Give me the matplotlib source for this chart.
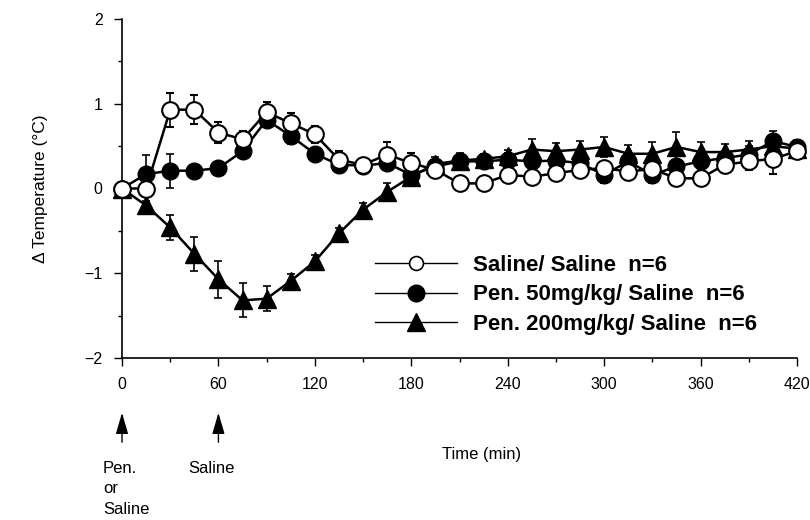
import matplotlib
matplotlib.use("Agg")
import matplotlib.pyplot as plt
import matplotlib.transforms as mtransforms
from matplotlib.lines import Line2D
from matplotlib.ticker import MultipleLocator

plt.rcParams['font.family'] = ['Liberation Sans', 'DejaVu Sans']

time_min = list(range(0, 421, 15))

saline = [0, 0, 0.93, 0.93, 0.66, 0.58, 0.90, 0.77, 0.64, 0.34, 0.28, 0.40, 0.30,
          0.22, 0.06, 0.06, 0.16, 0.14, 0.18, 0.22, 0.24, 0.20, 0.23, 0.12, 0.12,
          0.28, 0.32, 0.35, 0.44]
saline_err = [0, 0.03, 0.20, 0.17, 0.12, 0.10, 0.12, 0.12, 0.10, 0.10, 0.05, 0.15, 0.12,
              0.08, 0.03, 0.03, 0.05, 0.05, 0.05, 0.05, 0.05, 0.10, 0.05, 0.05, 0.05,
              0.10, 0.10, 0.18, 0.08]

pen50 = [0, 0.17, 0.21, 0.21, 0.24, 0.44, 0.81, 0.62, 0.41, 0.28, 0.27, 0.30, 0.16,
         0.26, 0.32, 0.32, 0.34, 0.32, 0.33, 0.30, 0.16, 0.32, 0.16, 0.26, 0.32,
         0.36, 0.40, 0.56, 0.49]
pen50_err = [0, 0.22, 0.20, 0.06, 0.03, 0.05, 0.05, 0.10, 0.05, 0.05, 0.05, 0.08, 0.05,
             0.08, 0.10, 0.08, 0.08, 0.08, 0.08, 0.08, 0.10, 0.08, 0.10, 0.08, 0.10,
             0.08, 0.10, 0.12, 0.08]

pen200 = [0, -0.20, -0.46, -0.77, -1.07, -1.32, -1.30, -1.09, -0.86, -0.53, -0.25, -0.04, 0.14,
          0.29, 0.33, 0.35, 0.38, 0.46, 0.44, 0.46, 0.49, 0.41, 0.41, 0.49, 0.43,
          0.43, 0.46, 0.50, 0.47]
pen200_err = [0, 0.05, 0.15, 0.20, 0.22, 0.20, 0.15, 0.08, 0.08, 0.06, 0.08, 0.10, 0.05,
              0.08, 0.06, 0.06, 0.08, 0.12, 0.10, 0.10, 0.12, 0.10, 0.14, 0.18, 0.12,
              0.10, 0.10, 0.08, 0.06]

labels = ["Saline/ Saline  n=6", "Pen. 50mg/kg/ Saline  n=6", "Pen. 200mg/kg/ Saline  n=6"]
x_ticks = [0, 60, 120, 180, 240, 300, 360, 420]
y_ticks = [-2, -1, 0, 1, 2]

fig = plt.figure(figsize=(8.1, 5.2), dpi=100)
ax = fig.add_axes([122/810, 1-358/520, (797-122)/810, (358-19)/520])

ms = 12
ax.errorbar(time_min, pen50, yerr=pen50_err, color='black', lw=1.8, marker='o', ms=ms,
            mfc='black', mec='black', capsize=3, elinewidth=1.2, capthick=1.2,
            clip_on=False, zorder=3)
ax.errorbar(time_min, pen200, yerr=pen200_err, color='black', lw=1.8, marker='^', ms=ms+1,
            mfc='black', mec='black', capsize=3, elinewidth=1.2, capthick=1.2,
            clip_on=False, zorder=4)
ax.errorbar(time_min, saline, yerr=saline_err, color='black', lw=1.8, marker='o', ms=ms,
            mfc='white', mec='black', mew=1.5, capsize=3, elinewidth=1.2, capthick=1.2,
            clip_on=False, zorder=5)

ax.set_xlim(0, 420)
ax.set_ylim(-2, 2)
ax.set_xticks(x_ticks)
ax.set_yticks(y_ticks)
ax.set_yticklabels([("\u2212" + str(abs(v))) if v < 0 else str(v) for v in y_ticks])
ax.xaxis.set_minor_locator(MultipleLocator(30))
ax.yaxis.set_minor_locator(MultipleLocator(0.5))
ax.tick_params(which='major', direction='out', length=6, width=1, labelsize=11.5, pad=8)
ax.tick_params(which='minor', direction='out', length=3, width=1)
for s in ['top', 'right']:
    ax.spines[s].set_visible(False)
for s in ['left', 'bottom']:
    ax.spines[s].set_linewidth(1.2)

ax.set_ylabel("\u0394 Temperature (\u00b0C)", fontsize=12.5, labelpad=26)

handles = [
    Line2D([], [], color='black', lw=1.0, marker='o', ms=10, mfc='white', mec='black', mew=1.2),
    Line2D([], [], color='black', lw=1.0, marker='o', ms=12, mfc='black', mec='black'),
    Line2D([], [], color='black', lw=1.0, marker='^', ms=13, mfc='black', mec='black'),
]
leg = ax.legend(handles, labels, loc='upper left', bbox_to_anchor=(0.361, 0.330),
                frameon=False, fontsize=16, handlelength=3.7, handletextpad=0.75,
                labelspacing=0.38, numpoints=1, borderaxespad=0)
for t in leg.get_texts():
    t.set_fontweight('bold')

# Annotations below the axis
trans = mtransforms.blended_transform_factory(ax.transData, fig.transFigure)
for xv in [0, 60]:
    ax.annotate("", xy=(xv, 1-410/520), xytext=(xv, 1-445/520),
                xycoords=trans, textcoords=trans,
                arrowprops=dict(arrowstyle='-|>,head_length=1.3,head_width=0.38',
                                mutation_scale=10, color='black', lw=1.0),
                annotation_clip=False)

fig.text(103/810, 1-461/520, "Pen.\nor\nSaline", fontsize=12, va='top', ha='left',
         linespacing=1.45)
fig.text(188/810, 1-461/520, "Saline", fontsize=12, va='top', ha='left')
fig.text(482/810, 1-455/520, "Time (min)", fontsize=12, va='center', ha='center')

fig.savefig("out.png", dpi=100)
